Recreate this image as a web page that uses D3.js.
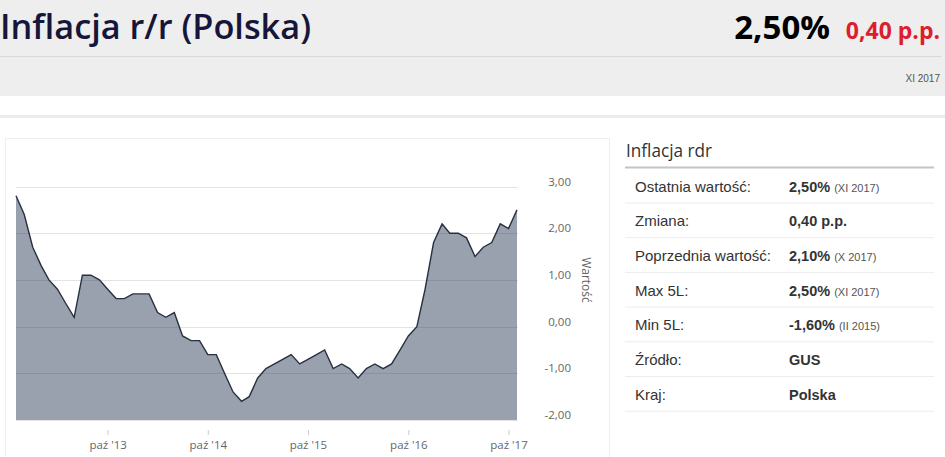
<!DOCTYPE html>
<html><head><meta charset="utf-8">
<script src="https://cdn.jsdelivr.net/npm/d3@7"></script>
<style>
html,body{margin:0;padding:0;background:#fff;overflow:hidden}
svg{display:block}
</style></head>
<body>
<svg id="c" width="945" height="457"></svg>
<script>
// ---- data ----
const months = [
 "2012-11","2012-12",
 "2013-01","2013-02","2013-03","2013-04","2013-05","2013-06","2013-07","2013-08","2013-09","2013-10","2013-11","2013-12",
 "2014-01","2014-02","2014-03","2014-04","2014-05","2014-06","2014-07","2014-08","2014-09","2014-10","2014-11","2014-12",
 "2015-01","2015-02","2015-03","2015-04","2015-05","2015-06","2015-07","2015-08","2015-09","2015-10","2015-11","2015-12",
 "2016-01","2016-02","2016-03","2016-04","2016-05","2016-06","2016-07","2016-08","2016-09","2016-10","2016-11","2016-12",
 "2017-01","2017-02","2017-03","2017-04","2017-05","2017-06","2017-07","2017-08","2017-09","2017-10","2017-11"
];
const inflation = [
 2.8, 2.4,
 1.7, 1.3, 1.0, 0.8, 0.5, 0.2, 1.1, 1.1, 1.0, 0.8, 0.6, 0.6,
 0.7, 0.7, 0.7, 0.3, 0.2, 0.3, -0.2, -0.3, -0.3, -0.6, -0.6, -1.0,
 -1.4, -1.6, -1.5, -1.1, -0.9, -0.8, -0.7, -0.6, -0.8, -0.7, -0.6, -0.5,
 -0.9, -0.8, -0.9, -1.1, -0.9, -0.8, -0.9, -0.8, -0.5, -0.2, 0.0, 0.8,
 1.8, 2.2, 2.0, 2.0, 1.9, 1.5, 1.7, 1.8, 2.2, 2.1, 2.5
];
const xTickDates = ["2013-10","2014-10","2015-10","2016-10","2017-10"];
const xTickLabels = ["paź '13","paź '14","paź '15","paź '16","paź '17"];
const yTicks = [-2, -1, 0, 1, 2, 3];
const yTickLabels = ["-2,00","-1,00","0,00","1,00","2,00","3,00"];
const tableLabels = ["Ostatnia wartość:","Zmiana:","Poprzednia wartość:","Max 5L:","Min 5L:","Źródło:","Kraj:"];
const tableValues = ["2,50%","0,40 p.p.","2,10%","2,50%","-1,60%","GUS","Polska"];
const tableNotes  = ["(XI 2017)","","(X 2017)","(XI 2017)","(II 2015)","",""];

// ---- drawing ----
const parse = d3.timeParse("%Y-%m");
const data = months.map((m,i)=>({d:parse(m), v:inflation[i]}));
const svg = d3.select("#c");

// header
svg.append("rect").attr("x",0).attr("y",0).attr("width",945).attr("height",96).attr("fill","#eeeeee");
svg.append("line").attr("x1",0).attr("x2",941).attr("y1",56.5).attr("y2",56.5).attr("stroke","#d8d8d8");
svg.append("text").attr("x",0).attr("y",39).text("Inflacja r/r (Polska)")
  .attr("font-family","'Open Sans',sans-serif").attr("font-weight",600).attr("font-size",35).attr("fill","#16163a")
  .attr("textLength",311).attr("lengthAdjust","spacingAndGlyphs");
svg.append("text").attr("x",830).attr("y",39).attr("text-anchor","end").text("2,50%")
  .attr("font-family","'Open Sans',sans-serif").attr("font-weight","bold").attr("font-size",33).attr("fill","#000");
svg.append("text").attr("x",940).attr("y",39).attr("text-anchor","end").text("0,40 p.p.")
  .attr("font-family","'Open Sans',sans-serif").attr("font-weight","bold").attr("font-size",23).attr("fill","#dd1c2c");
svg.append("text").attr("x",940).attr("y",82).attr("text-anchor","end").text("XI 2017")
  .attr("font-family","'Liberation Sans',Arial,sans-serif").attr("font-size",10).attr("fill","#555");
svg.append("rect").attr("x",0).attr("y",115).attr("width",945).attr("height",3).attr("fill","#ececec");

// chart container
svg.append("rect").attr("x",5.5).attr("y",138.5).attr("width",604).attr("height",330)
  .attr("fill","#fff").attr("stroke","#efefef");

const x = d3.scaleTime().domain([data[0].d, data[data.length-1].d]).range([16, 517]);
const y = d3.scaleLinear().domain([-2, 3]).range([420, 186.5]);

// grid
svg.append("g").selectAll("line").data(yTicks).join("line")
  .attr("x1",16).attr("x2",518).attr("y1",d=>Math.round(y(d))+0.5).attr("y2",d=>Math.round(y(d))+0.5)
  .attr("stroke","#e3e3e3");

// area + line
const area = d3.area().x(d=>x(d.d)).y0(y(-2)).y1(d=>y(d.v));
svg.append("path").datum(data).attr("d",area).attr("fill","rgba(40,56,82,0.47)");
const line = d3.line().x(d=>x(d.d)).y(d=>y(d.v));
svg.append("path").datum(data).attr("d",line).attr("fill","none").attr("stroke","#27303f").attr("stroke-width",1.4);

// x axis
const xAxis = d3.axisBottom(x).tickValues(xTickDates.map(parse)).tickSize(5).tickPadding(6)
  .tickFormat((d,i)=>xTickLabels[i]);
const gx = svg.append("g").attr("transform","translate(0,430)").call(xAxis);
gx.select(".domain").remove();
gx.selectAll(".tick line").attr("stroke","#ccc");
gx.selectAll(".tick text").attr("font-family","'Open Sans',sans-serif").attr("font-size",11.5).attr("fill","#666");

// y axis (right)
const yAxis = d3.axisRight(y).tickValues(yTicks).tickSize(0).tickFormat((d,i)=>yTickLabels[i]);
const gy = svg.append("g").attr("transform","translate(541,-5)").call(yAxis);
gy.select(".domain").remove();
gy.selectAll(".tick text").attr("x",30).attr("text-anchor","end")
  .attr("font-family","'Open Sans',sans-serif").attr("font-size",11.5).attr("fill","#666");
svg.append("text").attr("transform","translate(582,280) rotate(90)").attr("text-anchor","middle")
  .text("Wartość").attr("font-family","'Open Sans',sans-serif").attr("font-size",12).attr("fill","#666");

// table
svg.append("text").attr("x",626).attr("y",157).text("Inflacja rdr")
  .attr("font-family","'Open Sans',sans-serif").attr("font-weight",500).attr("font-size",17.5).attr("fill","#333")
  .attr("textLength",86).attr("lengthAdjust","spacingAndGlyphs");
svg.append("rect").attr("x",625).attr("y",166.5).attr("width",309).attr("height",2).attr("fill","#c4c4c4");
const rowH = 34.7;
const rows = svg.append("g").selectAll("g").data(tableLabels).join("g")
  .attr("transform",(d,i)=>`translate(0,${191.5+i*rowH})`);
rows.append("text").attr("x",635).attr("y",0).text(d=>d)
  .attr("font-family","'Liberation Sans',Arial,sans-serif").attr("font-size",15).attr("fill","#333");
rows.append("text").attr("x",789).attr("y",0)
  .attr("font-family","'Liberation Sans',Arial,sans-serif").attr("fill","#333")
  .each(function(d,i){
    const t = d3.select(this);
    t.append("tspan").attr("font-weight","bold").attr("font-size",14.5).text(tableValues[i]);
    if (tableNotes[i]) t.append("tspan").attr("font-size",11).attr("fill","#555").attr("dx",4).text(tableNotes[i]);
  });
rows.append("line").attr("x1",625).attr("x2",934).attr("y1",11.5).attr("y2",11.5).attr("stroke","#ececec");
</script>
</body></html>
